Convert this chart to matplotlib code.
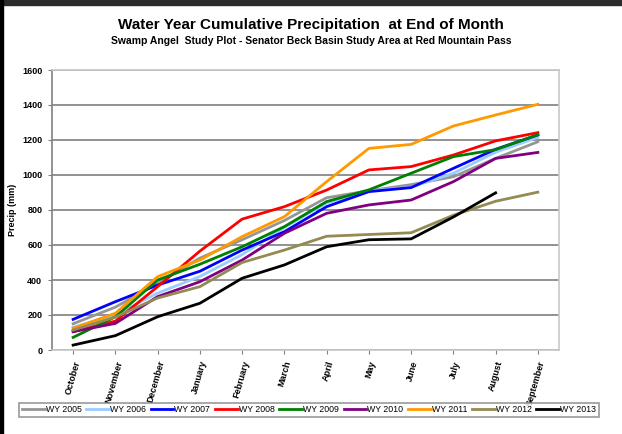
import matplotlib.pyplot as plt
from matplotlib.patches import Rectangle

months = ['October', 'November', 'December', 'January', 'February', 'March',
          'April', 'May', 'June', 'July', 'August', 'September']

wy2005 = [150, 245, 380, 525, 630, 740, 870, 910, 945, 990, 1095, 1190]
wy2006 = [130, 200, 325, 420, 545, 700, 840, 910, 930, 1010, 1130, 1215]
wy2007 = [175, 276, 371, 450, 571, 676, 819, 905, 928, 1038, 1147, 1229]
wy2008 = [105, 165, 362, 565, 748, 819, 914, 1029, 1048, 1114, 1195, 1242]
wy2009 = [72, 190, 400, 490, 590, 705, 848, 915, 1010, 1105, 1145, 1230]
wy2010 = [105, 152, 305, 390, 514, 667, 781, 829, 857, 962, 1095, 1129]
wy2011 = [124, 210, 419, 514, 648, 762, 962, 1152, 1175, 1280, 1343, 1404]
wy2012 = [114, 188, 297, 362, 500, 571, 650, 660, 670, 770, 850, 902]
wy2013 = [28, 82, 190, 267, 410, 486, 590, 630, 635, 760, 898]

series = [
    ('WY 2005', wy2005, '#969696'),
    ('WY 2006', wy2006, '#99ccff'),
    ('WY 2007', wy2007, '#0000ff'),
    ('WY 2008', wy2008, '#ff0000'),
    ('WY 2009', wy2009, '#008000'),
    ('WY 2010', wy2010, '#800080'),
    ('WY 2011', wy2011, '#ff9900'),
    ('WY 2012', wy2012, '#948a54'),
    ('WY 2013', wy2013, '#000000'),
]

plt.rcParams['font.family'] = ['Liberation Sans', 'DejaVu Sans']

fig = plt.figure(figsize=(6.22, 4.34), dpi=100)
ax = fig.add_axes([52/622, 1-350/434, (559-52)/622, (350-70)/434])

x = list(range(len(months)))
for name, vals, col in series:
    ax.plot(x[:len(vals)], vals, color=col, lw=2, label=name, zorder=3)

ax.set_xlim(-0.5, len(months) - 0.5)
ax.set_ylim(0, 1600)
ax.set_yticks(range(0, 1601, 200))
ax.set_xticks(x)
ax.set_xticklabels(months, rotation=74, ha='right', va='top',
                   rotation_mode='anchor', fontsize=6.5, fontweight='bold')
for t in ax.get_yticklabels():
    t.set_fontsize(6.5)
    t.set_fontweight('bold')
ax.tick_params(axis='y', length=3, color='#808080', pad=4)
ax.tick_params(axis='x', length=3, color='#808080', pad=4)
ax.grid(axis='y', color='#7f7f7f', lw=1.2, zorder=1)
for s in ax.spines.values():
    s.set_color('#c8c8c8')
    s.set_linewidth(1.2)
ax.spines['left'].set_color('#808080')
ax.set_ylabel('Precip (mm)', fontsize=6.5, fontweight='bold')
ax.yaxis.set_label_coords(-35/507, 0.5)

fig.text(0.5, 1-25/434, 'Water Year Cumulative Precipitation  at End of Month',
         ha='center', va='center', fontsize=11, fontweight='bold')
fig.text(0.5, 1-41/434, 'Swamp Angel  Study Plot - Senator Beck Basin Study Area at Red Mountain Pass',
         ha='center', va='center', fontsize=7.5, fontweight='bold')

leg = fig.legend(loc='center', bbox_to_anchor=(309/622, 1-410/434), ncol=9,
                 fontsize=6.3, frameon=True, fancybox=False, handlelength=2.6,
                 handletextpad=0.1, columnspacing=0.55, borderpad=0.3,
                 borderaxespad=0)
leg.get_frame().set_edgecolor('#808080')
leg.get_frame().set_linewidth(1.2)

# screenshot frame
fig.patches.append(Rectangle((0, 1-5/434), 1, 5/434, transform=fig.transFigure,
                             color='#2b2b2b', zorder=0))
fig.patches.append(Rectangle((0, 0), 3/622, 1, transform=fig.transFigure,
                             color='#000000', zorder=0))

fig.savefig('out.png', dpi=100)
